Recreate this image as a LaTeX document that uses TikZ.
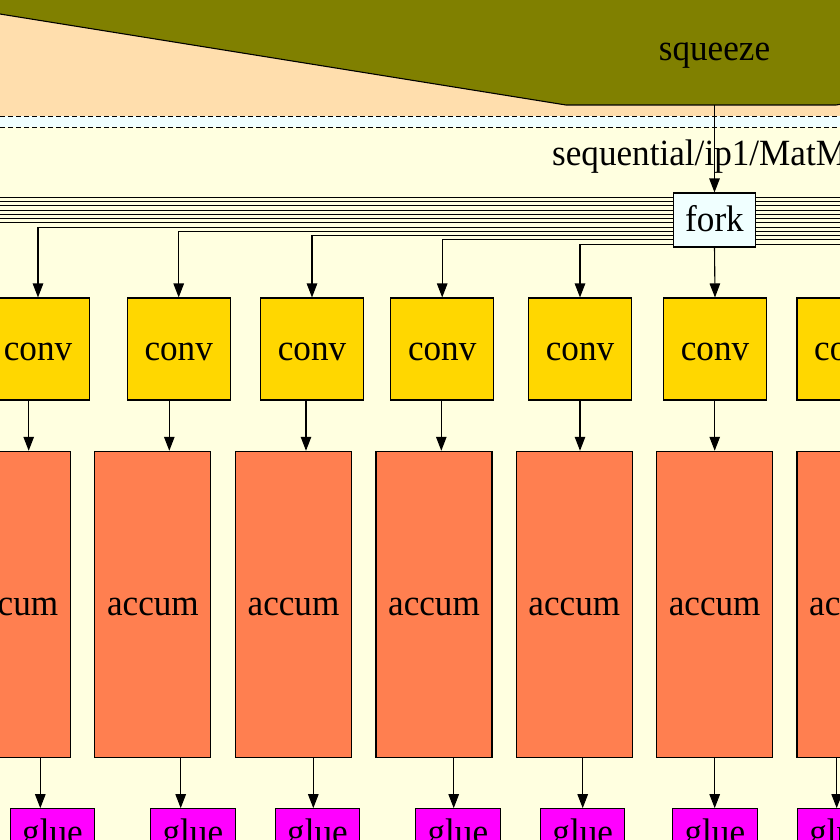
\documentclass[tikz,border=0pt]{standalone}
\usepackage{fontspec}
\setmainfont{Liberation Serif}[FakeStretch=0.95]
\usetikzlibrary{arrows.meta}
\definecolor{peach}{HTML}{FFDEAD}
\definecolor{azurebg}{HTML}{F0FFFF}
\definecolor{lyellow}{HTML}{FFFFE0}
\definecolor{olivec}{HTML}{808000}
\definecolor{goldc}{HTML}{FFD700}
\definecolor{coralc}{HTML}{FF7F50}
\definecolor{magentac}{HTML}{FF00FF}
\begin{document}
\begin{tikzpicture}[x=1pt,y=-1pt,
  lbl/.style={inner sep=0pt, text height=28pt, text depth=6pt, font=\fontsize{37}{40}\selectfont},
  box/.style={lbl, draw=black, line width=1.1pt},
  convbox/.style={box, fill=goldc, minimum width=102.7pt, minimum height=102pt},
  accbox/.style={box, fill=coralc, minimum width=116pt, minimum height=306pt},
  gluebox/.style={box, fill=magentac, minimum width=84.3pt, minimum height=48.6pt},
  forkbox/.style={box, fill=azurebg, minimum width=81.3pt, minimum height=54pt},
  arr/.style={line width=1.1pt, -{Triangle[length=14pt,width=10.5pt]}},
  bundle/.style={line width=1.1pt},
  dashline/.style={line width=0.9pt, dash pattern=on 5pt off 3pt}]
\useasboundingbox (0,0) rectangle (840,840);
\clip (0,0) rectangle (840,840);
% backgrounds
\fill[lyellow] (0,0) rectangle (840,840);
\fill[peach] (0,0) rectangle (840,116.5);
\fill[azurebg] (0,116.5) rectangle (840,127.5);
\draw[dashline] (0,116.5) -- (840,116.5);
\draw[dashline] (0,127.5) -- (840,127.5);
% squeeze polygon
\draw[fill=olivec, line width=1.1pt] (-20,10.8) -- (566,105) -- (836,105) -- (900,94.7) -- (900,-20) -- (-20,-20) -- cycle;
\coordinate (sqb) at (714.5,105);
\node[lbl] (squeeze) at (714.5,50) {squeeze};
\node[lbl, anchor=base west] (seq) at (552,165.5) {sequential/ip1/MatM};
% nodes
\node[forkbox] (fork) at (714.5,220) {fork};
\node[convbox] (conv1) at (38,349) {conv};
\node[convbox] (conv2) at (178.7,349) {conv};
\node[convbox] (conv3) at (312,349) {conv};
\node[convbox] (conv4) at (442.2,349) {conv};
\node[convbox] (conv5) at (580,349) {conv};
\node[convbox] (conv6) at (715,349) {conv};
\node[convbox] (conv7) at (848.3,349) {conv};
\node[accbox] (acc1) at (12.3,604.3) {accum};
\node[accbox] (acc2) at (152.9,604.3) {accum};
\node[accbox] (acc3) at (293.5,604.3) {accum};
\node[accbox] (acc4) at (434,604.3) {accum};
\node[accbox] (acc5) at (574.3,604.3) {accum};
\node[accbox] (acc6) at (714.7,604.3) {accum};
\node[accbox] (acc7) at (855,604.3) {accum};
\node[gluebox] (glue1) at (52.5,833) {glue};
\node[gluebox] (glue2) at (192.9,833) {glue};
\node[gluebox] (glue3) at (317.5,833) {glue};
\node[gluebox] (glue4) at (457.9,833) {glue};
\node[gluebox] (glue5) at (582.7,833) {glue};
\node[gluebox] (glue6) at (714.9,833) {glue};
\node[gluebox] (glue7) at (839.5,833) {glue};
% squeeze -> fork
\draw[arr] (sqb) -- (fork.north);
% fork bundle
\foreach \k in {0,...,11} {
  \coordinate (L\k) at (0,197.3+4.25*\k);
  \coordinate (R\k) at (840,197.3+4.25*\k);
  \draw[bundle] (fork.east |- R\k) -- (R\k);
}
\foreach \k in {0,...,6} {
  \draw[bundle] (fork.west |- L\k) -- (L\k);
}
\draw[arr] (fork.west |- L7) -| (conv1.north);
\draw[arr] (fork.west |- L8) -| (conv2.north);
\draw[arr] (fork.west |- L9) -| (conv3.north);
\draw[arr] (fork.west |- L10) -| (conv4.north);
\draw[arr] (fork.west |- L11) -| (conv5.north);
\draw[arr] (fork.south) -- (conv6.north);
% conv -> accum
\foreach \i/\x in {1/28.7,2/169.3,3/306,4/441.3,5/580,6/714.7} {
  \coordinate (ca\i) at (\x,0);
  \draw[arr] (conv\i.south -| ca\i) -- (acc\i.north -| ca\i);
}
% accum -> glue
\foreach \i/\x in {1/40.3,2/180.7,3/313.3,4/453.7,5/582.7,6/714.7,7/836.7} {
  \coordinate (ag\i) at (\x,0);
  \draw[arr] (acc\i.south -| ag\i) -- (glue\i.north -| ag\i);
}
\end{tikzpicture}
\end{document}
